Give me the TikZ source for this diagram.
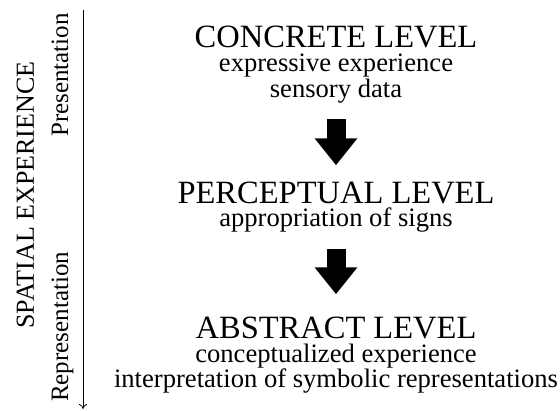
\documentclass[tikz,border=0pt]{standalone}
\usepackage{fontspec}
\setmainfont{Liberation Serif}
\usetikzlibrary{arrows.meta}

\begin{document}
\begin{tikzpicture}[x=1pt,y=-1pt]

	%\draw[help lines] (0,0) grid (560,410);
	\useasboundingbox (0,0) rectangle (560,410);

	\tikzset{level/.style={anchor=base,inner sep=0pt,font=\fontsize{32.5}{32.5}\selectfont}}
	\tikzset{detail/.style={anchor=base,inner sep=0pt,font=\fontsize{26.6}{26.6}\selectfont}}
	\tikzset{side/.style={inner sep=0pt,rotate=90,font=\fontsize{25}{25}\selectfont}}
	\tikzset{bigarrow/.style={line width=19pt,-{Triangle[length=27pt,width=41pt]}}}

	\def\midx{336}

	% concrete level
	\node[level] (concrete) at (\midx,47) {CONCRETE LEVEL};
	\node[detail] (expressive) at (\midx,71) {expressive experience};
	\node[detail] (sensory) at (\midx,97) {sensory data};

	% perceptual level
	\node[level] (perceptual) at (\midx,203) {PERCEPTUAL LEVEL};
	\node[detail] (appropriation) at (\midx,226) {appropriation of signs};

	% abstract level
	\node[level] (abstract) at (\midx,338) {ABSTRACT LEVEL};
	\node[detail] (conceptualized) at (\midx,362) {conceptualized experience};
	\node[detail] (interpretation) at (\midx,387) {interpretation of symbolic representations};

	% arrows between the levels
	\draw[bigarrow,shorten <=16pt,shorten >=16pt] (sensory.south) -- (perceptual.north);
	\draw[bigarrow,shorten <=17pt,shorten >=22pt] (appropriation.south) -- (abstract.north);

	% spatial experience axis
	\coordinate (axtop) at (83,10);
	\coordinate (axend) at (83,409);
	\draw[line width=0.8pt,-{To[length=5pt,width=8pt]}] (axtop) -- (axend);

	\node[side,anchor=base,font=\fontsize{26}{26}\selectfont] (spatial) at (34,195) {SPATIAL EXPERIENCE};
	\node[side,anchor=base east] (presentation) at (68,13) {Presentation};
	\node[side,anchor=base west] (representation) at (68,402) {Representation};

\end{tikzpicture}
\end{document}
